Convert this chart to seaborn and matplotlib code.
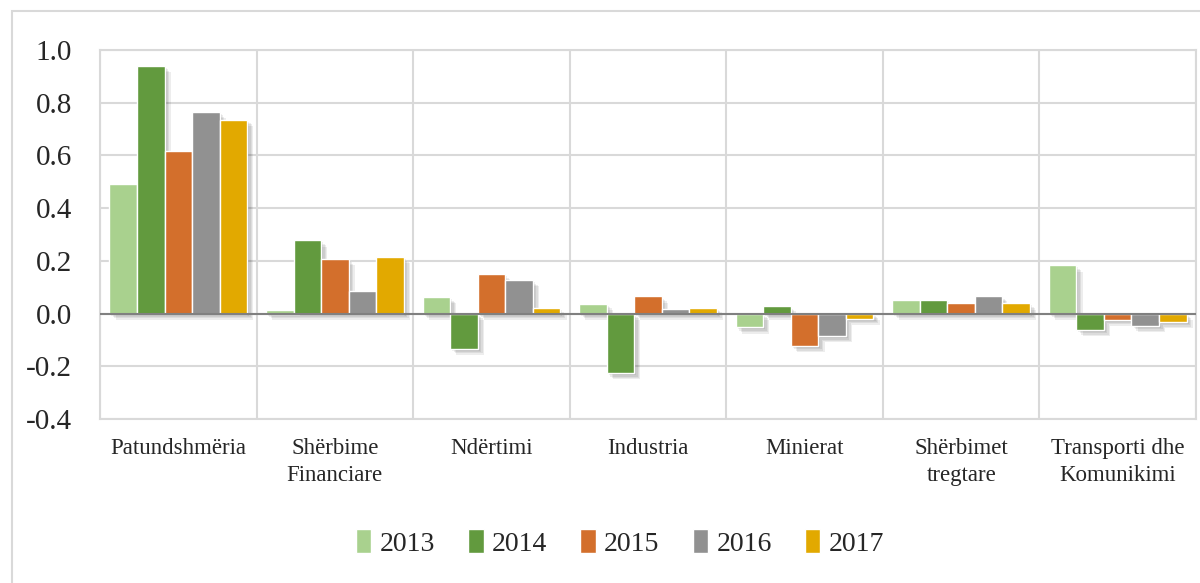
import numpy as np
import pandas as pd
import matplotlib
matplotlib.use("Agg")
import matplotlib.pyplot as plt
import matplotlib.patheffects as pe
from matplotlib.patches import Rectangle
import seaborn as sns

sektoret = ["Patundshmëria", "Shërbime\nFinanciare", "Ndërtimi", "Industria",
            "Minierat", "Shërbimet\ntregtare", "Transporti dhe\nKomunikimi"]
vitet = ["2013", "2014", "2015", "2016", "2017"]

v2013 = [0.49, 0.015, 0.062, 0.038, -0.052, 0.050, 0.183]
v2014 = [0.94, 0.278, -0.133, -0.226, 0.027, 0.053, -0.061]
v2015 = [0.616, 0.207, 0.150, 0.065, -0.122, 0.039, -0.023]
v2016 = [0.765, 0.086, 0.127, 0.019, -0.086, 0.065, -0.046]
v2017 = [0.736, 0.214, 0.020, 0.023, -0.019, 0.039, -0.032]

ngjyrat = ["#A9D18E", "#629A3E", "#D36F2C", "#919191", "#E2A900"]

df = pd.DataFrame({
    "sektori": sektoret * 5,
    "viti": np.repeat(vitet, len(sektoret)),
    "vlera": v2013 + v2014 + v2015 + v2016 + v2017,
})

sns.set_style("white")
plt.rcParams["font.family"] = ["Liberation Serif", "DejaVu Serif"]

fig = plt.figure(figsize=(12, 5.83), dpi=100)
ax = fig.add_axes([100 / 1200, 1 - 419 / 583, 1096 / 1200, 369 / 583])

# border of the chart area
fig.patches.append(Rectangle((12 / 1200, -0.1), 1.2, 1 - 11 / 583 + 0.1,
                             transform=fig.transFigure, fill=False,
                             edgecolor="#D9D9D9", linewidth=1.5, zorder=0))

sns.barplot(data=df, x="sektori", y="vlera", hue="viti", palette=ngjyrat,
            width=0.88, saturation=1, ax=ax, legend=True, zorder=3)

# soft shadow like the Excel original
hije = [pe.SimplePatchShadow(offset=(d, -d), shadow_rgbFace="#000000", alpha=0.07)
        for d in (1.5, 2.5, 3.5, 4.5)]
for p in ax.patches:
    p.set_path_effects(hije + [pe.Normal()])

ax.set_ylim(-0.4, 1.0)
ax.set_xlim(-0.5, len(sektoret) - 0.5)
ax.set_yticks(np.arange(-0.4, 1.01, 0.2))
ax.set_yticklabels([f"{t:.1f}" for t in np.arange(-0.4, 1.01, 0.2)], fontsize=21)
ax.set_xticks(range(len(sektoret)))
ax.set_xticklabels(sektoret, fontsize=16.5, va="top", linespacing=1.35)
ax.set_xticks(np.arange(-0.5, len(sektoret), 1), minor=True)
ax.tick_params(axis="both", length=0, which="both")
ax.tick_params(axis="y", pad=20)
ax.tick_params(axis="x", pad=14)
ax.grid(axis="y", color="#D9D9D9", linewidth=1.5, zorder=0)
ax.grid(axis="x", which="minor", color="#D9D9D9", linewidth=1.5, zorder=0)
ax.set_axisbelow(True)
ax.axhline(0, color="#808080", linewidth=1.5, zorder=4)
for s in ax.spines.values():
    s.set_color("#D9D9D9")
    s.set_linewidth(1.5)
ax.set_xlabel("")
ax.set_ylabel("")

handles, labels = ax.get_legend_handles_labels()
leg = ax.legend(handles, labels, loc="center", bbox_to_anchor=(620 / 1200, 1 - 543 / 583),
                bbox_transform=fig.transFigure, ncol=5, frameon=False, fontsize=20,
                handlelength=0.55, handleheight=0.9, handletextpad=0.3, columnspacing=1.2)
for h in leg.get_patches():
    h.set_path_effects([])

fig.savefig("out.png", dpi=100)
